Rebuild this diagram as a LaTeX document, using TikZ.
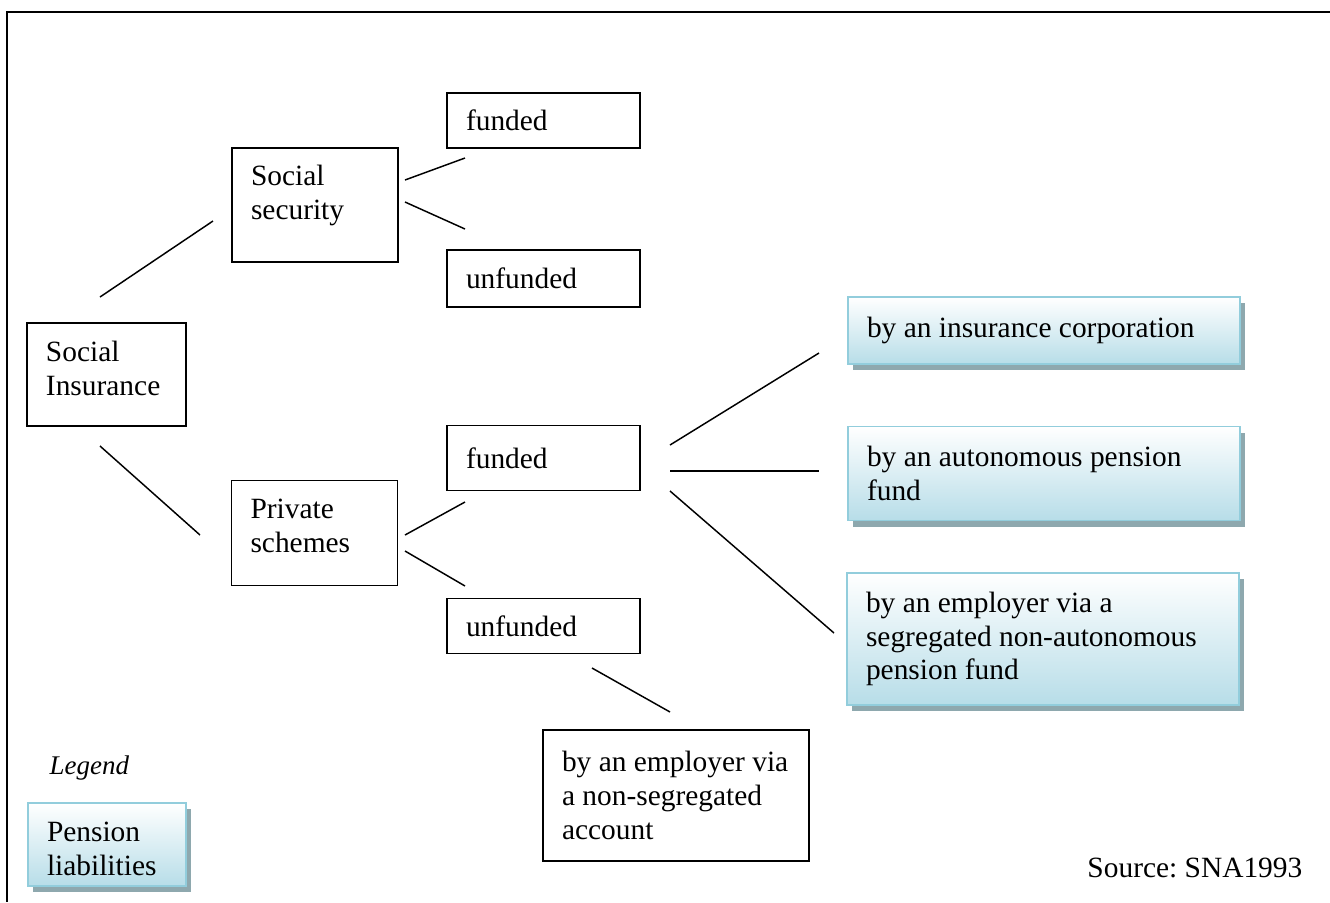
\documentclass[tikz,border=0pt]{standalone}
\usepackage{fontspec}
\setmainfont{Liberation Serif}
\usepackage{tikz}
\usetikzlibrary{shadows,positioning}
\definecolor{penline}{HTML}{92CDDC}
\definecolor{penfill}{HTML}{B7DDE8}
\definecolor{penshade}{HTML}{8EA8AE}
\newlength\pxu
\setlength\pxu{0.408pt}
\frenchspacing
\tikzset{
	scheme diagram/.style={
		x=0.408pt, y=-0.408pt,
		every node/.style={font=\fontsize{12pt}{13.8pt}\selectfont},
		link/.style={line width=0.6pt},
		frame/.style={line width=0.8pt}
		},
	plainbox/.code 2 args={
		\pgfmathsetlengthmacro{\boxtw}{(#1-38)*\pxu}
		\pgfkeysalso{draw, line width=0.8pt, align=flush left, inner xsep=19\pxu, inner ysep=0pt,
			text width=\boxtw, minimum height=#2*\pxu}
	},
	penbox/.style 2 args={plainbox={#1}{#2}, draw=penline, top color=white, bottom color=penfill,
		drop shadow={fill=penshade, opacity=1, shadow xshift=5\pxu, shadow yshift=-6\pxu}},
	lift/.style={text depth=#1*\pxu},
	itfont/.style={font=\fontsize{11pt}{13pt}\selectfont\itshape}
}

\begin{document}
\begin{tikzpicture}[scheme diagram]
    \useasboundingbox (0,0) rectangle (1330,902);
    \draw[frame] (1330,12) -- (7,12) -- (7,902);
    \node[plainbox={159}{103}, lift=46] (ins) at (106.5,374.5) {Social\\Insurance};
    \node[plainbox={166}{114}, lift=60] (secu) at (315,205) {Social\\security};
    \node[plainbox={193}{55}] (secufund) at (543.5,120.5) {funded};
    \node[plainbox={193}{57}] (secuunf) at (543.5,278.5) {unfunded};
    \node[plainbox={166}{105}, lift=48] (priv) at (314.5,533) {Private\\schemes};
    \node[plainbox={193}{65}] (privfund) at (543.5,458) {funded};
    \node[plainbox={193}{55}] (privunf) at (543.5,626) {unfunded};
    \node[plainbox={266}{131}] (nonseg) at (676,795.5) {by an employer via\\a non-segregated\\account};
    \node[penbox={392}{67}] (insc) at (1044,330.5) {by an insurance corporation};
    \node[penbox={392}{94}] (auto) at (1044,473.5) {by an autonomous pension\\fund};
    \node[penbox={392}{132}] (segr) at (1043,639) {by an employer via a\\segregated non-autonomous\\pension fund};
    \node[itfont, anchor=west] (legend) at (41,768) {Legend};
    \node[penbox={158}{83}, text height=28*\pxu] (legbox) at (107,844.5) {Pension\\liabilities};
    \node[anchor=east] (source) at (1311,868) {Source: SNA1993};
    \coordinate (ins-a) at (100,297);   \coordinate (secu-a) at (213,221);
    \coordinate (ins-b) at (100,446);   \coordinate (priv-a) at (200,535);
    \coordinate (secu-b) at (405,180);  \coordinate (secufund-a) at (465,158);
    \coordinate (secu-c) at (405,202);  \coordinate (secuunf-a) at (465,229);
    \coordinate (priv-b) at (405,535);  \coordinate (privfund-a) at (465,502);
    \coordinate (priv-c) at (405,551);  \coordinate (privunf-a) at (465,586);
    \coordinate (privfund-b) at (670,445); \coordinate (insc-a) at (819,353);
    \coordinate (privfund-c) at (670,471); \coordinate (auto-a) at (819,471);
    \coordinate (privfund-d) at (670,491); \coordinate (segr-a) at (834,633);
    \coordinate (privunf-b) at (592,668);  \coordinate (nonseg-a) at (670,712);
    \foreach \s/\t in {ins-a/secu-a, ins-b/priv-a, secu-b/secufund-a, secu-c/secuunf-a,
        priv-b/privfund-a, priv-c/privunf-a, privfund-b/insc-a, privfund-c/auto-a,
        privfund-d/segr-a, privunf-b/nonseg-a}
      \draw[link] (\s) -- (\t);
\end{tikzpicture}
\end{document}
